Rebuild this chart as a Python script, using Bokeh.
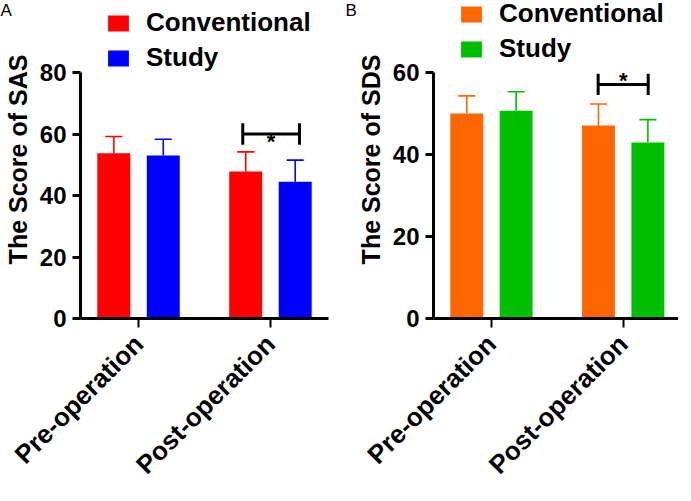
import numpy as np
from bokeh.plotting import figure
from bokeh.layouts import row
from bokeh.models import (ColumnDataSource, Range1d, FixedTicker, Legend, LegendItem,
                          Whisker, TeeHead, Label)
from bokeh.core.properties import value
from bokeh.embed import file_html
from bokeh.resources import INLINE

# ---------------- data ----------------
categories = ["Pre-operation", "Post-operation"]
series_names = ["Conventional", "Study"]

sas_conventional = [53.7, 47.8]
sas_conventional_sd = [5.5, 6.4]
sas_study = [53.0, 44.5]
sas_study_sd = [5.3, 7.0]

sds_conventional = [50.0, 47.1]
sds_conventional_sd = [4.3, 5.2]
sds_study = [50.7, 42.9]
sds_study_sd = [4.6, 5.6]

sas_ticks = [0, 20, 40, 60, 80]
sds_ticks = [0, 20, 40, 60]

FONT = "Liberation Sans"
FRAME_H = 318          # plot frame height (axis bottom at 318 px from the top)
AXIS_PX = 246          # pixel height of the drawn y axis
PAGE_H = 485           # visible height of the whole layout


def make_panel(ytitle, means, sds, colors, yticks, xend, frame_w, left, right,
               bracket_y, bracket_half, bracket_dx, star_offset, legend_y, letter, letter_x):
    idx = np.arange(len(categories), dtype=float)
    offsets = [-0.1875, 0.1875]
    ytop = yticks[-1] * FRAME_H / AXIS_PX
    p = figure(frame_width=frame_w, frame_height=FRAME_H,
               output_backend="svg", toolbar_location=None,
               x_range=Range1d(-0.44, xend), y_range=Range1d(0, ytop),
               min_border_left=left, min_border_right=right, min_border_top=0,
               min_border_bottom=0, align="start")
    p.outline_line_color = None
    p.grid.visible = False

    renderers = []
    for m, s, c, off in zip(means, sds, colors, offsets):
        x = idx + off
        src = ColumnDataSource(dict(x=x, top=m, upper=np.array(m) + np.array(s)))
        r = p.vbar(x="x", top="top", bottom=0, width=0.25, source=src,
                   fill_color=c, line_color=None)
        renderers.append(r)
        w = Whisker(base="x", lower="top", upper="upper", source=src,
                    line_color=c, line_width=1.6, level="glyph",
                    upper_head=TeeHead(size=17, line_color=c, line_width=1.6),
                    lower_head=None)
        p.add_layout(w)

    # significance bracket on the post-operation group
    g = idx[1]
    p.segment(x0=[g + bracket_dx[0]], x1=[g + bracket_dx[1]], y0=[bracket_y], y1=[bracket_y],
              line_color="black", line_width=3)
    p.segment(x0=[g + bracket_dx[0], g + bracket_dx[1]], x1=[g + bracket_dx[0], g + bracket_dx[1]],
              y0=[bracket_y - bracket_half] * 2, y1=[bracket_y + bracket_half] * 2,
              line_color="black", line_width=3)
    p.text(x=[g + (bracket_dx[0] + bracket_dx[1]) / 2], y=[bracket_y], text=["*"],
           text_font=value(FONT), text_font_style="bold", text_font_size="22px",
           text_align="center", text_baseline="alphabetic", y_offset=star_offset)

    # axes
    for ax in (p.xaxis[0], p.yaxis[0]):
        ax.axis_line_width = 3
        ax.axis_line_color = "black"
        ax.major_tick_line_color = "black"
        ax.minor_tick_line_color = None
        ax.major_label_text_font = FONT
        ax.major_label_text_font_style = "bold"
        ax.major_label_text_color = "black"
    p.yaxis.bounds = (0, yticks[-1])
    p.yaxis.ticker = FixedTicker(ticks=yticks)
    p.yaxis.major_label_text_font_size = "24px"
    p.yaxis.major_tick_out = 8
    p.yaxis.major_tick_in = 0
    p.yaxis.major_tick_line_width = 3
    p.yaxis.major_label_standoff = 6
    p.yaxis.axis_label = ytitle
    p.yaxis.axis_label_text_font = FONT
    p.yaxis.axis_label_text_font_style = "bold"
    p.yaxis.axis_label_text_font_size = "25px"
    p.yaxis.axis_label_text_color = "black"
    p.yaxis.axis_label_standoff = 5

    p.xaxis.bounds = (-0.44, 1.44)
    p.xaxis.ticker = FixedTicker(ticks=list(idx))
    p.xaxis.major_label_overrides = {0: categories[0], 1: categories[1]}
    p.xaxis.major_label_orientation = np.pi / 4
    p.xaxis.major_label_text_font_size = "26px"
    p.xaxis.major_tick_out = 9
    p.xaxis.major_tick_in = 0
    p.xaxis.major_tick_line_width = 2
    p.xaxis.major_label_standoff = 12

    legend = Legend(items=[LegendItem(label=n, renderers=[r]) for n, r in zip(series_names, renderers)],
                    location=(25, legend_y), orientation="vertical",
                    label_text_font=FONT, label_text_font_style="bold",
                    label_text_font_size="26px", label_text_color="black",
                    glyph_width=26, glyph_height=20, label_standoff=15,
                    spacing=4, padding=0, margin=0, border_line_color=None,
                    background_fill_alpha=0)
    p.add_layout(legend, "center")

    # panel letter, placed at the very top-left (y in data units = top of the frame)
    p.add_layout(Label(x=letter_x, y=ytop, x_units="screen", y_units="data", text=letter,
                       text_font=FONT, text_font_size="17px", text_baseline="top",
                       y_offset=0, text_color="black"), "below")
    return p


pA = make_panel("The Score of SAS", [sas_conventional, sas_study],
                [sas_conventional_sd, sas_study_sd], ["#FF0000", "#0000FF"], sas_ticks,
                1.44, 248, 77, 12, 60, 3.5, (-0.21, 0.22), 7, 245, "A", -80)
pB = make_panel("The Score of SDS", [sds_conventional, sds_study],
                [sds_conventional_sd, sds_study_sd], ["#FF6600", "#00BF00"], sds_ticks,
                1.42, 245, 93, 0, 57.1, 2.6, (-0.19, 0.19), -4, 254, "B", -88)

# the figures' lower borders only hold white space below the rotated labels;
# the layout is cut at the window height
layout = row(pA, pB, styles={"overflow": "hidden", "max-height": f"{PAGE_H}px",
                             "align-items": "flex-start"})
open("out.html", "w").write(file_html(layout, INLINE))
